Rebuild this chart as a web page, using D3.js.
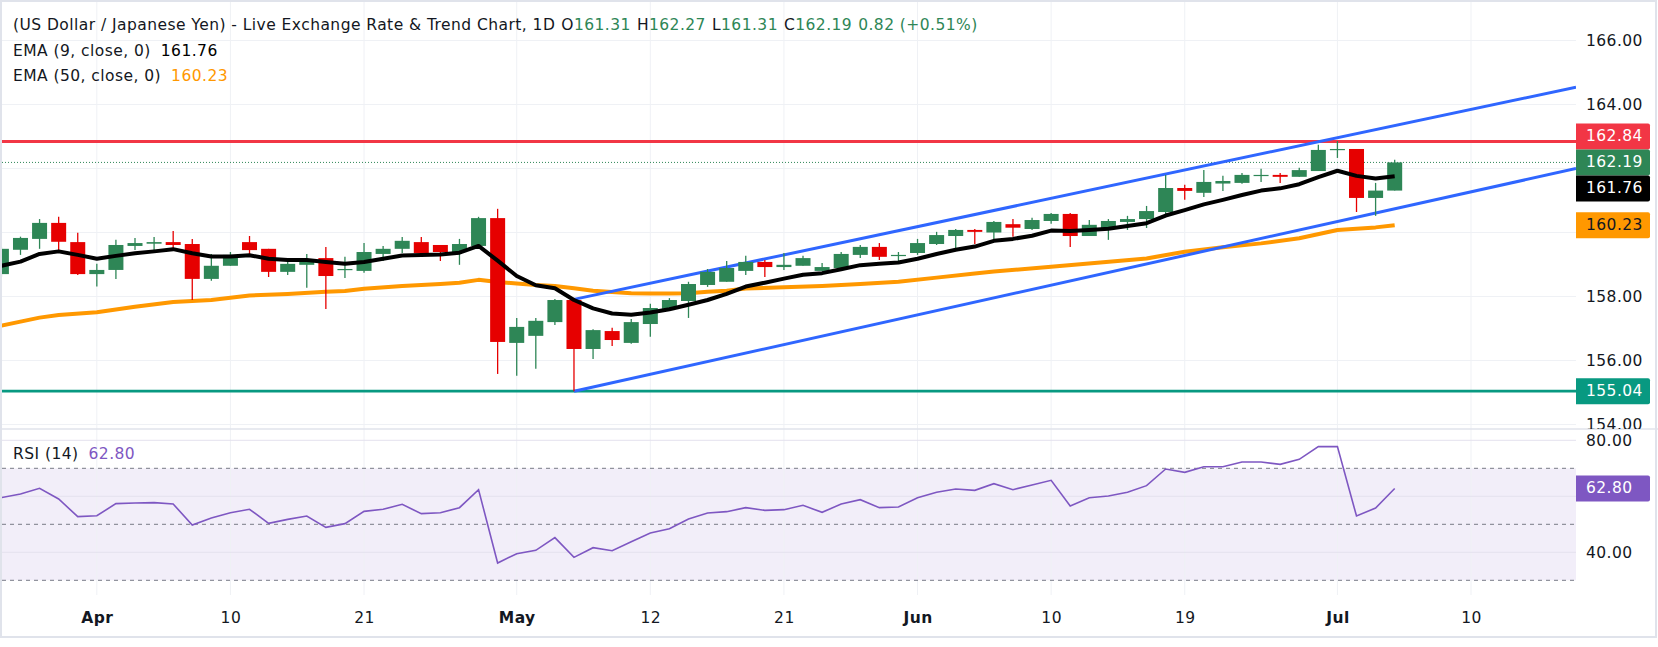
<!DOCTYPE html>
<html><head><meta charset="utf-8">
<script src="https://cdn.jsdelivr.net/npm/d3@7"></script>
<style>
html,body{margin:0;padding:0;background:#fff;}
svg{display:block;font-family:"DejaVu Sans",sans-serif;}
</style></head><body>
<svg id="c" width="1658" height="647"></svg>
<script>
// ---------- DATA ----------
const dates = ["03-25","03-26","03-27","03-30","03-31","04-01","04-02","04-03","04-06","04-07","04-08","04-09","04-10",
"04-13","04-14","04-15","04-16","04-17","04-20","04-21","04-22","04-23","04-24","04-27","04-28","04-29","04-30",
"05-01","05-04","05-05","05-06","05-07","05-08","05-11","05-12","05-13","05-14","05-15","05-18","05-19","05-20",
"05-21","05-22","05-25","05-26","05-27","05-28","05-29","06-01","06-02","06-03","06-04","06-05","06-08","06-09",
"06-10","06-11","06-12","06-15","06-16","06-17","06-18","06-19","06-22","06-23","06-24","06-25","06-26","06-29",
"06-30","07-01","07-02","07-03","07-06","07-07","07-08","07-09","07-10","07-13","07-14","07-15","07-16","07-17"];

const open  = [158.70,159.46,159.80,160.30,159.70,158.70,158.83,159.58,159.65,159.70,159.64,158.55,158.96,159.70,159.49,158.77,158.99,159.20,158.83,158.80,159.33,159.49,159.70,159.61,159.39,159.58,160.45,156.55,156.77,157.20,157.89,156.36,156.92,156.55,157.14,157.61,157.86,158.36,158.46,158.80,159.08,158.92,158.96,158.80,158.89,159.30,159.55,159.27,159.36,159.64,159.89,160.08,160.00,160.26,160.11,160.36,160.58,159.89,160.14,160.33,160.42,160.64,161.39,161.24,161.53,161.55,161.77,161.80,161.74,161.92,162.58,162.61,161.08,161.31];
const high  = [159.55,159.87,160.42,160.49,159.99,159.02,159.77,159.83,159.86,160.05,159.80,159.33,159.39,159.89,159.49,159.17,159.33,159.55,159.24,159.67,159.58,159.86,159.86,159.61,159.80,160.49,160.74,157.33,157.33,157.92,157.95,156.98,157.02,157.30,157.77,157.95,158.46,158.86,159.11,159.27,159.14,159.36,159.27,159.05,159.39,159.61,159.67,159.39,159.80,160.02,160.11,160.11,160.36,160.42,160.46,160.61,160.61,160.39,160.42,160.52,160.83,161.80,161.49,161.95,161.77,161.86,161.99,161.86,162.02,162.74,162.86,162.61,161.55,162.27];
const low   = [158.62,159.30,159.49,159.37,158.67,158.31,158.55,159.45,159.36,159.49,157.89,158.49,158.96,159.30,158.61,158.67,158.27,157.61,158.58,158.74,159.11,159.36,159.34,159.11,158.99,159.58,155.58,155.52,155.74,157.11,155.04,156.05,156.45,156.52,156.74,157.58,157.33,158.30,158.46,158.67,158.61,158.83,158.96,158.80,158.86,159.20,159.14,159.11,159.30,159.61,159.42,159.64,159.77,159.87,160.08,160.27,159.55,159.89,159.77,160.08,160.14,160.49,161.02,161.11,161.30,161.52,161.58,161.55,161.74,161.92,162.33,160.64,160.52,161.31];
const close = [159.49,159.83,160.30,159.71,158.70,158.83,159.61,159.67,159.70,159.61,158.55,158.96,159.30,159.45,158.77,159.02,159.17,158.64,158.86,159.39,159.49,159.74,159.36,159.39,159.64,160.45,156.58,157.05,157.24,157.89,156.36,156.95,156.64,157.20,157.64,157.89,158.39,158.77,158.89,159.08,158.92,158.99,159.20,158.92,159.33,159.55,159.24,159.30,159.67,159.92,160.08,160.02,160.33,160.15,160.39,160.58,159.89,160.24,160.36,160.42,160.67,161.39,161.30,161.58,161.61,161.80,161.80,161.74,161.95,162.58,162.61,161.08,161.31,162.19];

const ema9 = [158.96,159.09,159.33,159.41,159.30,159.18,159.27,159.35,159.41,159.48,159.35,159.25,159.25,159.29,159.18,159.14,159.14,159.08,159.02,159.08,159.18,159.28,159.30,159.31,159.37,159.58,159.12,158.64,158.35,158.26,157.89,157.63,157.47,157.43,157.50,157.60,157.74,157.89,158.08,158.31,158.43,158.56,158.68,158.73,158.85,158.98,159.02,159.06,159.18,159.33,159.46,159.56,159.74,159.80,159.90,160.06,160.05,160.08,160.12,160.20,160.29,160.53,160.70,160.88,161.02,161.17,161.31,161.38,161.51,161.73,161.93,161.77,161.69,161.76];

const ema50Bars = [0,2,3,5,7,9,11,13,15,17,18,19,21,23,24,25,26,27,28,29,30,31,32,33,34,35,36,37,38,39,41,43,45,47,49,51,52,55,60,62,64,66,68,70,72,73];
const ema50 = [157.09,157.34,157.42,157.51,157.68,157.83,157.89,158.03,158.08,158.15,158.17,158.24,158.33,158.39,158.43,158.52,158.45,158.41,158.36,158.33,158.26,158.18,158.14,158.10,158.09,158.09,158.10,158.15,158.18,158.25,158.29,158.33,158.39,158.46,158.59,158.72,158.78,158.93,159.19,159.40,159.54,159.66,159.82,160.08,160.16,160.23];

const rsi = [59.51,60.82,62.85,59.04,52.73,53.08,57.37,57.61,57.73,57.25,49.75,52.25,54.15,55.35,50.35,51.77,52.96,48.92,50.23,54.63,55.35,57.13,53.80,54.15,55.94,62.37,36.18,39.51,40.70,45.23,38.20,41.65,40.58,43.80,46.89,48.44,51.89,54.04,54.51,55.94,54.99,55.23,56.77,54.27,57.25,58.80,55.94,56.18,59.51,61.42,62.61,62.13,64.51,62.37,64.04,65.70,56.54,59.51,60.11,61.42,63.80,69.75,68.56,70.58,70.58,72.25,72.25,71.42,73.20,77.73,77.73,52.96,55.82,62.80];

const tickDates  = ["04-01","04-10","04-21","05-01","05-12","05-21","06-01","06-10","06-19","07-01","07-10"];
const tickLabels = ["Apr","10","21","May","12","21","Jun","10","19","Jul","10"];
const monthTicks = ["Apr","May","Jun","Jul"];

const priceTicks = [166,164,162,160,158,156,154];
const rsiTicks = [80,60,40];
const rsiLevels = [70,50,30];

const resistance = 162.84, support = 155.04;
const channelUpper = [{d:"05-06", v:157.91}, {end:true, v:164.54}];
const channelLower = [{d:"05-06", v:155.04}, {end:true, v:162.00}];

const titleMain = "(US Dollar / Japanese Yen) - Live Exchange Rate & Trend Chart, 1D";
const ohlcLabels = ["O","H","L","C"];
const ohlcValues = ["161.31","162.27","161.31","162.19"];
const changeText = "0.82 (+0.51%)";
const ema9Label = "EMA (9, close, 0)", ema50Label = "EMA (50, close, 0)";
const rsiLabel = "RSI (14)";

// ---------- LAYOUT ----------
const W = 1658, H = 647;
const plotL = 2, plotR = 1576, mainT = 2, mainB = 429, rsiB = 595;
const FS = 15.5, LS = 0.45;
const C = {green:"#2e8656", red:"#e60000", text:"#131722", grid:"#eff1f5", border:"#e0e3eb",
  ema9:"#000000", ema50:"#ff9800", blue:"#2f66ff", res:"#f23645", sup:"#089981", rsi:"#7e57c2"};

const svg = d3.select("#c");
const idx = d => dates.indexOf(d);
const x = d3.scaleLinear().domain([0, 82.5]).range([1.4, 1576]);
const yP = d3.scaleLinear().domain([154, 166]).range([424.5, 40.5]);
const yR = d3.scaleLinear().domain([30, 80]).range([580.3, 440.3]);

svg.append("rect").attr("width",W).attr("height",H).attr("fill","#fff");

const defs = svg.append("defs");
defs.append("clipPath").attr("id","mainClip").append("rect").attr("x",plotL).attr("y",mainT).attr("width",plotR-plotL).attr("height",mainB-mainT);
defs.append("clipPath").attr("id","rsiClip").append("rect").attr("x",plotL).attr("y",mainB).attr("width",plotR-plotL).attr("height",rsiB-mainB);
defs.append("clipPath").attr("id","axisClip").append("rect").attr("x",plotR).attr("y",mainT).attr("width",W-plotR).attr("height",mainB-mainT);

// RSI band
svg.append("rect").attr("x",plotL).attr("width",plotR-plotL)
  .attr("y",yR(70)).attr("height",yR(30)-yR(70)).attr("fill","#f2eef9");

// vertical grid
const tickIdx = tickDates.map(idx);
svg.append("g").selectAll("line").data(tickIdx).join("line")
  .attr("x1",d=>x(d)).attr("x2",d=>x(d)).attr("y1",mainT).attr("y2",rsiB)
  .attr("stroke",C.grid).attr("stroke-width",1);
// horizontal grid
svg.append("g").selectAll("line").data(priceTicks).join("line")
  .attr("x1",plotL).attr("x2",plotR).attr("y1",d=>yP(d)).attr("y2",d=>yP(d))
  .attr("stroke",C.grid).attr("stroke-width",1);
svg.append("g").selectAll("line").data(rsiTicks).join("line")
  .attr("x1",plotL).attr("x2",plotR).attr("y1",d=>yR(d)).attr("y2",d=>yR(d))
  .attr("stroke","#e4e1ee").attr("stroke-width",1);
// RSI dashed levels
svg.append("g").selectAll("line").data(rsiLevels).join("line")
  .attr("x1",plotL).attr("x2",plotR).attr("y1",d=>yR(d)).attr("y2",d=>yR(d))
  .attr("stroke","#787b86").attr("stroke-width",1).attr("stroke-dasharray","4,4");

// ---------- MAIN PANE ----------
const main = svg.append("g").attr("clip-path","url(#mainClip)");

main.append("line").attr("x1",plotL).attr("x2",plotR).attr("y1",yP(resistance)).attr("y2",yP(resistance))
  .attr("stroke",C.res).attr("stroke-width",3);
main.append("line").attr("x1",plotL).attr("x2",plotR).attr("y1",yP(support)).attr("y2",yP(support))
  .attr("stroke",C.sup).attr("stroke-width",2.8);
const last = close[close.length-1];
main.append("line").attr("x1",plotL).attr("x2",plotR).attr("y1",yP(last)).attr("y2",yP(last))
  .attr("stroke",C.green).attr("stroke-width",1).attr("stroke-dasharray","1,2");

// EMA50
const ema50Pts = ema50Bars.map((b,i)=>[b, ema50[i]]);
main.append("path").datum(ema50Pts)
  .attr("d", d3.line().x(d=>x(d[0])).y(d=>yP(d[1])))
  .attr("fill","none").attr("stroke",C.ema50).attr("stroke-width",4).attr("stroke-linejoin","round");

// channel lines
function chan(pts){ return pts.map(p => [p.end ? 82.5 : idx(p.d), p.v]); }
[channelUpper, channelLower].forEach(c=>{
  main.append("path").datum(chan(c))
    .attr("d", d3.line().x(d=>x(d[0])).y(d=>yP(d[1])))
    .attr("fill","none").attr("stroke",C.blue).attr("stroke-width",3);
});

// candles
const bars = open.map((o,i)=>({i, o, h:high[i], l:low[i], c:close[i]}));
const bw = 15;
const cg = main.append("g");
cg.selectAll("line.wick").data(bars).join("line").attr("class","wick")
  .attr("x1",d=>x(d.i)).attr("x2",d=>x(d.i)).attr("y1",d=>yP(d.h)).attr("y2",d=>yP(d.l))
  .attr("stroke",d=>d.c>=d.o?C.green:C.red).attr("stroke-width",1.3);
cg.selectAll("rect.body").data(bars).join("rect").attr("class","body")
  .attr("x",d=>x(d.i)-bw/2).attr("width",bw)
  .attr("y",d=>yP(Math.max(d.o,d.c)))
  .attr("height",d=>Math.max(1.2, Math.abs(yP(d.o)-yP(d.c))))
  .attr("fill",d=>d.c>=d.o?C.green:C.red);

// EMA9
main.append("path").datum(ema9)
  .attr("d", d3.line().x((d,i)=>x(i)).y(d=>yP(d)))
  .attr("fill","none").attr("stroke",C.ema9).attr("stroke-width",4).attr("stroke-linejoin","round");

// ---------- RSI PANE ----------
const rp = svg.append("g").attr("clip-path","url(#rsiClip)");
rp.append("path").datum(rsi)
  .attr("d", d3.line().x((d,i)=>x(i)).y(d=>yR(d)))
  .attr("fill","none").attr("stroke",C.rsi).attr("stroke-width",1.6);

// pane separator & border
svg.append("line").attr("x1",0).attr("x2",W).attr("y1",mainB).attr("y2",mainB).attr("stroke",C.border).attr("stroke-width",1.5);
svg.append("rect").attr("x",1).attr("y",1).attr("width",1655).attr("height",636)
  .attr("fill","none").attr("stroke",C.border).attr("stroke-width",2);

// ---------- PRICE LABEL LAYOUT ----------
const boxH = 26;
const labels = [
  {v:resistance, bg:C.res, fg:"#fff"},
  {v:last, bg:C.green, fg:"#fff", fixed:true},
  {v:ema9[ema9.length-1], bg:"#000", fg:"#fff"},
  {v:ema50[ema50.length-1], bg:C.ema50, fg:"#131722"},
  {v:support, bg:C.sup, fg:"#fff"}
];
labels.forEach(l=>l.y=yP(l.v));
const sorted = labels.slice().sort((a,b)=>a.y-b.y);
const f = sorted.findIndex(l=>l.fixed);
for(let k=f-1;k>=0;k--) sorted[k].y = Math.min(sorted[k].y, sorted[k+1].y-boxH);
for(let k=f+1;k<sorted.length;k++) sorted[k].y = Math.max(sorted[k].y, sorted[k-1].y+boxH);
const rsiLab = {v:rsi[rsi.length-1], bg:C.rsi, fg:"#fff"}; rsiLab.y = yR(rsiLab.v);
const allLabels = [...sorted, rsiLab];
const covered = yy => allLabels.some(l => Math.abs(l.y - yy) < boxH/2 + 7);

// ---------- AXES ----------
const fmt = d3.format(".2f");
const pAxis = svg.append("g").attr("clip-path","url(#axisClip)").append("g")
  .attr("transform",`translate(${plotR},0)`)
  .call(d3.axisRight(yP).tickValues(priceTicks.filter(t=>!covered(yP(t)))).tickFormat(fmt).tickSize(0).tickPadding(10));
const rAxis = svg.append("g").attr("transform",`translate(${plotR},0)`)
  .call(d3.axisRight(yR).tickValues(rsiTicks.filter(t=>!covered(yR(t)))).tickFormat(fmt).tickSize(0).tickPadding(10));
const xAxis = svg.append("g").attr("transform",`translate(0,${rsiB})`)
  .call(d3.axisBottom(x).tickValues(tickIdx).tickFormat((d,i)=>tickLabels[i]).tickSize(0).tickPadding(17));
[pAxis,rAxis,xAxis].forEach(g=>{
  g.select(".domain").remove();
  g.selectAll("text").attr("font-family","DejaVu Sans").attr("font-size",FS).attr("letter-spacing",LS).attr("fill",C.text);
});
xAxis.selectAll("text").attr("font-weight",(d,i)=>monthTicks.includes(tickLabels[i])?"bold":"normal");

const lg = svg.append("g");
allLabels.forEach(l=>{
  lg.append("path").attr("d",(()=>{const x0=plotR,x1=1650,y0=l.y-boxH/2,y1=l.y+boxH/2,r=2;
    return `M${x0},${y0}H${x1-r}Q${x1},${y0} ${x1},${y0+r}V${y1-r}Q${x1},${y1} ${x1-r},${y1}H${x0}Z`;})())
    .attr("fill",l.bg);
  lg.append("text").attr("x",plotR+10).attr("y",l.y).attr("dy","0.32em")
    .attr("font-size",FS).attr("letter-spacing",LS).attr("fill",l.fg).text(fmt(l.v));
});

// ---------- LEGEND TEXT ----------
function legendText(y){
  return svg.append("text").attr("x",13).attr("y",y).attr("font-size",FS).attr("letter-spacing",LS).attr("fill",C.text);
}
const t1 = legendText(30);
t1.append("tspan").text(titleMain);
ohlcLabels.forEach((lab,i)=>{
  t1.append("tspan").attr("dx",6).text(lab);
  t1.append("tspan").attr("fill",C.green).text(ohlcValues[i]);
});
t1.append("tspan").attr("dx",6).attr("fill",C.green).text(changeText);

const t2 = legendText(55.7);
t2.append("tspan").text(ema9Label);
t2.append("tspan").attr("dx",10).attr("fill","#000").text(fmt(ema9[ema9.length-1]));
const t3 = legendText(81);
t3.append("tspan").text(ema50Label);
t3.append("tspan").attr("dx",10).attr("fill",C.ema50).text(fmt(ema50[ema50.length-1]));
const t4 = legendText(459);
t4.append("tspan").text(rsiLabel);
t4.append("tspan").attr("dx",10).attr("fill",C.rsi).text(fmt(rsi[rsi.length-1]));
</script>
</body></html>
